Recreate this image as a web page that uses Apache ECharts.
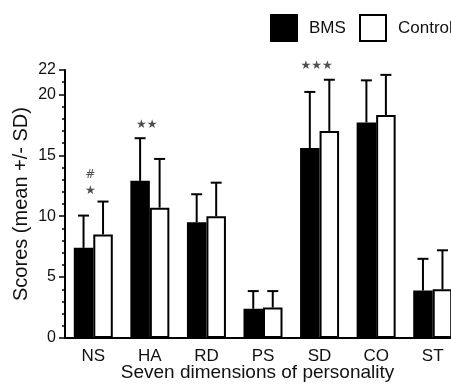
<!DOCTYPE html>
<html>
<head>
<meta charset="utf-8">
<script src="https://cdn.jsdelivr.net/npm/echarts@6/dist/echarts.min.js"></script>
<style>
  html, body { margin: 0; padding: 0; background: #fff; }
  #chart { width: 451px; height: 385px; }
</style>
</head>
<body>
<div id="chart"></div>
<script>
const categories = ['NS', 'HA', 'RD', 'PS', 'SD', 'CO', 'ST'];
const bmsMean = [7.4, 12.9, 9.5, 2.4, 15.6, 17.7, 3.9];
const bmsSD = [2.65, 3.5, 2.3, 1.45, 4.6, 3.45, 2.6];
const ctrlMean = [8.5, 10.7, 10.0, 2.5, 17.0, 18.3, 4.0];
const ctrlSD = [2.7, 4.0, 2.75, 1.35, 4.2, 3.3, 3.2];
const yLabels = [0, 5, 10, 15, 20, 22];
// significance marks: [category index, y value, text]
const marks = [[0, 12.1, '★'], [0, 13.4, '#'], [1, 17.5, '★★'], [4, 22.3, '★★★']];

const FONT = 'Liberation Sans';
const BAR_W = 19.5;

const chart = echarts.init(document.getElementById('chart'));

const errSeries = (name, mean, sd, side) => ({
   type: 'custom',
   name: name,
   z: 3,
   silent: true,
   data: mean.map((m, i) => [i, m, sd[i]]),
   renderItem: function (params, api) {
      const i = api.value(0);
      const lo = api.coord([i, api.value(1)]);
      const hi = api.coord([i, api.value(1) + api.value(2)]);
      const x = lo[0] + side * BAR_W / 2;
      const st = { stroke: '#000', lineWidth: 2 };
      return {
         type: 'group',
         children: [
            { type: 'line', shape: { x1: x, y1: lo[1], x2: x, y2: hi[1] }, style: st },
            { type: 'line', shape: { x1: x - 5.5, y1: hi[1], x2: x + 5.5, y2: hi[1] }, style: st }
         ]
      };
   }
});

const legendItem = (name, left) => ({
   left: left,
   top: 14,
   padding: 0,
   itemWidth: 26,
   itemHeight: 26,
   icon: 'rect',
   data: [name],
   itemStyle: { borderColor: '#000', borderWidth: 2 },
   textStyle: { fontFamily: FONT, fontSize: 17, color: '#111', padding: [0, 0, 0, 7] }
});

const option = {
   animation: false,
   textStyle: { fontFamily: FONT, color: '#000' },
   grid: { left: 65, top: 70, width: 396, bottom: 47, outerBoundsMode: 'none' },
   legend: [legendItem('BMS', 270), legendItem('Control', 359)],
   xAxis: {
      type: 'category',
      data: categories,
      name: 'Seven dimensions of personality',
      nameLocation: 'middle',
      nameGap: 25,
      nameMoveOverlap: false,
      nameTextStyle: { fontFamily: FONT, fontSize: 19, color: '#111', padding: [0, 11, 0, 0] },
      axisLine: { lineStyle: { color: '#000', width: 2 } },
      axisTick: { length: 5, lineStyle: { color: '#000', width: 1.5 } },
      axisLabel: { fontFamily: FONT, fontSize: 17, color: '#111', margin: 10 }
   },
   yAxis: [
      {
         type: 'value',
         min: 0,
         max: 22,
         interval: 1,
         name: 'Scores (mean +/- SD)',
         nameLocation: 'middle',
         nameGap: 34,
         nameMoveOverlap: false,
         nameTextStyle: { fontFamily: FONT, fontSize: 20, color: '#111' },
         axisLine: { show: true, lineStyle: { color: '#000', width: 2 } },
         axisTick: { show: true, length: 3, lineStyle: { color: '#000', width: 1.5 } },
         axisLabel: { show: false },
         splitLine: { show: false }
      },
      {
         type: 'value',
         min: 0,
         max: 22,
         interval: 5,
         position: 'left',
         axisLine: { show: false },
         axisTick: { show: true, length: 6, lineStyle: { color: '#000', width: 1.5 } },
         axisLabel: {
            fontFamily: FONT, fontSize: 16, color: '#111', margin: 9,
            formatter: v => (yLabels.includes(v) ? String(v) : '')
         },
         splitLine: { show: false }
      }
   ],
   series: [
      {
         name: 'BMS',
         type: 'bar',
         data: bmsMean,
         barWidth: BAR_W,
         barGap: '0%',
         itemStyle: { color: '#000', borderColor: '#000', borderWidth: 2 }
      },
      {
         name: 'Control',
         type: 'bar',
         data: ctrlMean,
         barWidth: BAR_W,
         barGap: '0%',
         itemStyle: { color: '#fff', borderColor: '#000', borderWidth: 2 }
      },
      errSeries('BMS err', bmsMean, bmsSD, -1),
      errSeries('Control err', ctrlMean, ctrlSD, 1),
      {
         type: 'scatter',
         silent: true,
         clip: false,
         symbolSize: 0,
         data: marks,
         label: {
            show: true,
            position: 'inside',
            offset: [-3, 0],
            fontFamily: 'DejaVu Sans',
            fontSize: 12,
            color: '#222',
            formatter: p => p.value[2]
         }
      }
   ]
};

chart.setOption(option);
</script>
</body>
</html>
